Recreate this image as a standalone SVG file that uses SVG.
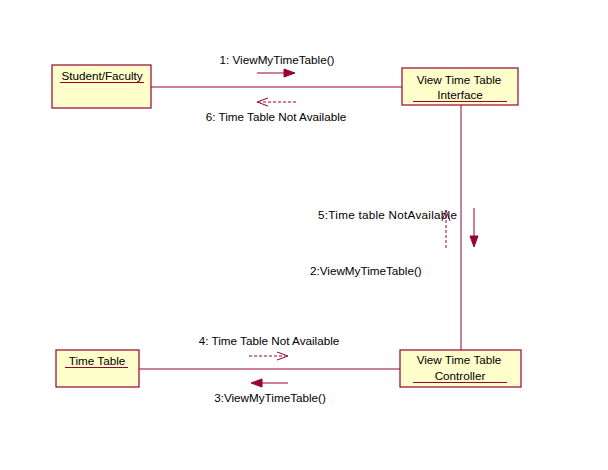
<svg xmlns="http://www.w3.org/2000/svg" width="608" height="470" viewBox="0 0 608 470">
<style>
.box{fill:#FFFFCC;stroke:#990033;stroke-width:1.2}
.ln{stroke:#990033;stroke-width:1;fill:none}
.dash{stroke:#990033;stroke-width:1;fill:none;stroke-dasharray:3,2}
.t{font-family:"Liberation Sans",Arial,sans-serif;font-size:11.7px;fill:#000}
.c{text-anchor:middle}
.fill{fill:#990033;stroke:#990033}
</style>
<rect width="608" height="470" fill="#fff"/>
<g id="connectors">
<line class="ln" x1="151" y1="87" x2="402" y2="87"/>
<line class="ln" x1="461" y1="105" x2="461" y2="350"/>
<line class="ln" x1="139" y1="369" x2="400" y2="369"/>
</g>
<g id="messages">
<line class="ln" x1="257" y1="73" x2="284" y2="73"/>
<polygon class="fill" points="284,69 295,73 284,77"/>
<text class="t c" x="277" y="64">1: ViewMyTimeTable()</text>
<line class="dash" x1="296" y1="102" x2="260" y2="102"/>
<polyline class="ln" points="268,98 257,102 268,106"/>
<text class="t c" x="276" y="121">6: Time Table Not Available</text>
<line class="ln" x1="474" y1="208" x2="474" y2="236"/>
<polygon class="fill" points="470,236 474,247 478,236"/>
<line class="dash" x1="446" y1="248" x2="446" y2="213"/>
<polyline class="ln" points="442,221 446,210 450,221"/>
<text class="t" x="318" y="219" textLength="139">5:Time table NotAvailable</text>
<text class="t" x="310" y="275">2:ViewMyTimeTable()</text>
<line class="dash" x1="249" y1="356" x2="285" y2="356"/>
<polyline class="ln" points="277,352 288,356 277,360"/>
<text class="t c" x="269" y="345">4: Time Table Not Available</text>
<line class="ln" x1="288" y1="383" x2="262" y2="383"/>
<polygon class="fill" points="262,379 251,383 262,387"/>
<text class="t c" x="270" y="402">3:ViewMyTimeTable()</text>
</g>
<g id="student">
<rect class="box" x="52" y="65" width="99" height="43"/>
<text class="t c" x="102" y="80">Student/Faculty</text>
<line class="ln" x1="60" y1="82.5" x2="144" y2="82.5"/>
</g>
<g id="interface">
<rect class="box" x="402" y="68" width="116" height="37"/>
<text class="t c" x="459" y="84">View Time Table</text>
<text class="t c" x="460" y="99">Interface</text>
<line class="ln" x1="413" y1="101.5" x2="507" y2="101.5"/>
</g>
<g id="timetable">
<rect class="box" x="56" y="350" width="83" height="37"/>
<text class="t c" x="97" y="365">Time Table</text>
<line class="ln" x1="65" y1="367.5" x2="128" y2="367.5"/>
</g>
<g id="controller">
<rect class="box" x="400" y="350" width="121" height="37"/>
<text class="t c" x="459" y="364">View Time Table</text>
<text class="t c" x="460" y="380">Controller</text>
<line class="ln" x1="413" y1="382.5" x2="507" y2="382.5"/>
</g>
</svg>
